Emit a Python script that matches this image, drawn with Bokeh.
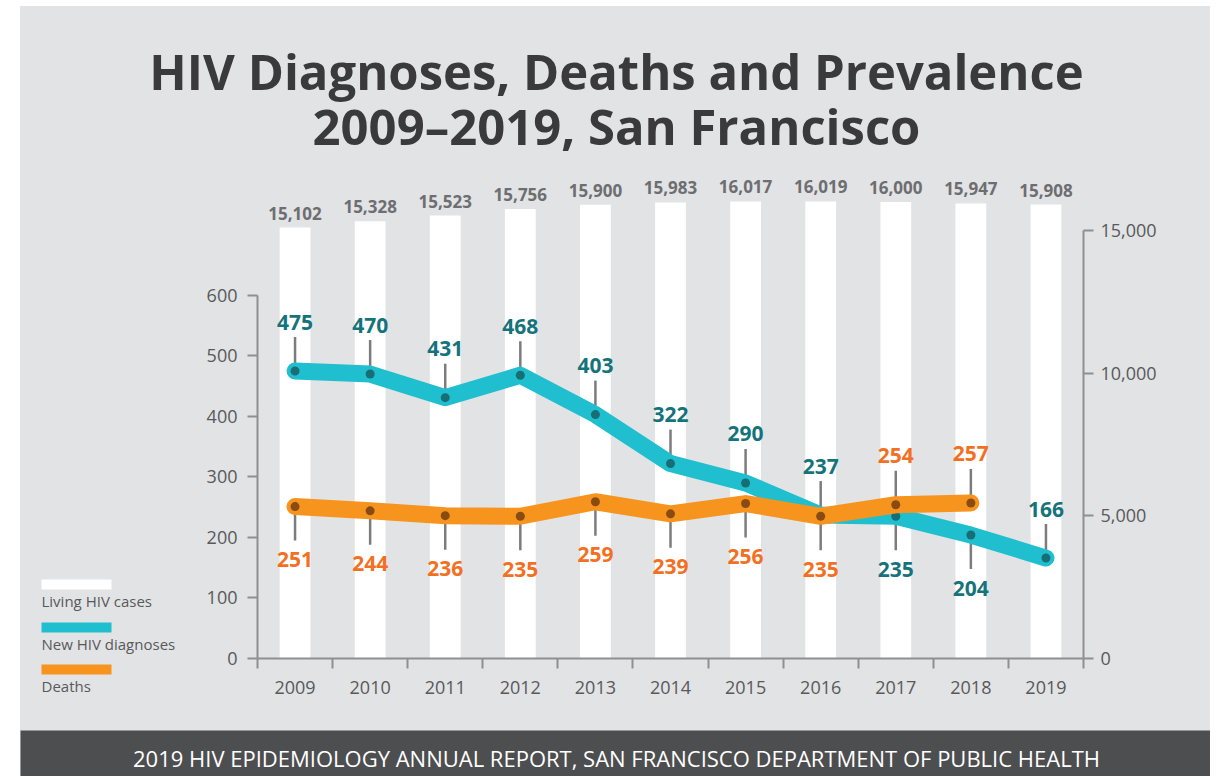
from bokeh.plotting import figure
from bokeh.models import Range1d, LinearAxis, FixedTicker, NumeralTickFormatter, Spacer
from bokeh.layouts import column, row
from bokeh.embed import file_html
from bokeh.resources import INLINE
from bokeh.core.properties import value

# ---------------- data ----------------
years = [2009, 2010, 2011, 2012, 2013, 2014, 2015, 2016, 2017, 2018, 2019]
living_cases = [15102, 15328, 15523, 15756, 15900, 15983, 16017, 16019, 16000, 15947, 15908]
new_diagnoses = [475, 470, 431, 468, 403, 322, 290, 237, 235, 204, 166]
deaths = [251, 244, 236, 235, 259, 239, 256, 235, 254, 257]
death_years = years[:len(deaths)]
left_ticks = [0, 100, 200, 300, 400, 500, 600]
right_ticks = [0, 5000, 10000, 15000]
series_names = ["Living HIV cases", "New HIV diagnoses", "Deaths"]
title_lines = ["HIV Diagnoses, Deaths and Prevalence", "2009\u20132019, San Francisco"]
footer_text = "2019 HIV EPIDEMIOLOGY ANNUAL REPORT, SAN FRANCISCO DEPARTMENT OF PUBLIC HEALTH"

# ---------------- style ----------------
BG = "#e2e3e5"
TEAL = "#20bfcf"
ORANGE = "#f7941e"
TEAL_DOT = "#176e75"
ORANGE_DOT = "#8a4b12"
TEAL_TEXT = "#15737c"
ORANGE_TEXT = "#f36f21"
GRAY_TEXT = "#58595b"
BAR_LABEL = "#6d6e71"
AXIS = "#8e8f91"
LEADER = "#7c7c7e"
FOOTER_BG = "#4d4e50"
TITLE_C = "#3a3a3c"
FONT = "Open Sans"

def bare(fig, bg=BG):
    fig.background_fill_color = bg
    fig.border_fill_color = bg
    fig.outline_line_color = None
    fig.xgrid.visible = False
    fig.ygrid.visible = False
    fig.frame_align = False
    return fig

# ---------------- title figure ----------------
TH = 169
tf = figure(width=1190, height=TH, x_range=Range1d(0, 1190), y_range=Range1d(TH, 0),
            toolbar_location=None, output_backend="svg", min_border=0,
            x_axis_type=None, y_axis_type=None)
bare(tf)
tf.text(x=[596, 596], y=[64, 119], text=title_lines, text_align="center", text_baseline="middle",
        text_font=value(FONT), text_font_style="bold", text_font_size="49px", text_color=TITLE_C)

# ---------------- legend figure ----------------
LH = 555
lf = figure(width=175, height=LH, x_range=Range1d(0, 175), y_range=Range1d(LH, 0),
            toolbar_location=None, output_backend="svg", min_border=0,
            x_axis_type=None, y_axis_type=None)
bare(lf)
sw_y = [409, 452, 494]
lf.rect(x=[56, 56, 56], y=sw_y, width=70, height=10,
        fill_color=["#ffffff", TEAL, ORANGE], line_color=None)
lf.text(x=[21, 21, 21], y=[y + 16 for y in sw_y], text=series_names, text_align="left",
        text_baseline="middle", text_font=value(FONT), text_font_size="15px", text_color=GRAY_TEXT)

# ---------------- main figure ----------------
PX_PER_UNIT = 483 / 798.0  # frame px per left-axis unit (for leader lengths)
p = figure(width=1015, height=555, x_range=Range1d(2008.5, 2019.5), y_range=Range1d(0, 798),
           toolbar_location=None, output_backend="svg",
           min_border_left=62, min_border_right=127, min_border_top=0, min_border_bottom=72)
bare(p)
p.extra_y_ranges = {"right": Range1d(0, 16927)}

# axes
xa = p.xaxis[0]
xa.ticker = FixedTicker(ticks=years, minor_ticks=[y - 0.5 for y in years] + [years[-1] + 0.5])
xa.major_tick_out = 0
xa.major_tick_in = 0
xa.minor_tick_out = 10
xa.minor_tick_in = 0
xa.minor_tick_line_color = AXIS
xa.minor_tick_line_width = 2
xa.axis_line_color = AXIS
xa.axis_line_width = 2
xa.major_label_standoff = 12
xa.major_label_text_font = FONT
xa.major_label_text_font_size = "18px"
xa.major_label_text_color = GRAY_TEXT

ya = p.yaxis[0]
ya.ticker = FixedTicker(ticks=left_ticks)
ya.bounds = (0, 600)
ya.major_tick_out = 10
ya.major_tick_in = 0
ya.minor_tick_out = 0
ya.minor_tick_in = 0
ya.major_tick_line_color = AXIS
ya.major_tick_line_width = 2
ya.axis_line_color = AXIS
ya.axis_line_width = 2
ya.major_label_standoff = 10
ya.major_label_text_font = FONT
ya.major_label_text_font_size = "18px"
ya.major_label_text_color = GRAY_TEXT

ra = LinearAxis(y_range_name="right", ticker=FixedTicker(ticks=right_ticks), bounds=(0, 15000),
                formatter=NumeralTickFormatter(format="0,0"))
ra.major_tick_out = 10
ra.major_tick_in = 0
ra.minor_tick_out = 0
ra.minor_tick_in = 0
ra.major_tick_line_color = AXIS
ra.major_tick_line_width = 2
ra.axis_line_color = AXIS
ra.axis_line_width = 2
ra.major_label_standoff = 7
ra.major_label_text_font = FONT
ra.major_label_text_font_size = "18px"
ra.major_label_text_color = GRAY_TEXT
p.add_layout(ra, "right")

# bars (living cases)
p.vbar(x=years, top=living_cases, bottom=0, width=0.41, y_range_name="right",
       fill_color="#ffffff", line_color=None)
p.text(x=years, y=living_cases, text=[f"{v:,}" for v in living_cases], y_range_name="right",
       y_offset=-8, text_align="center", text_baseline="bottom", text_font=value(FONT),
       text_font_style="bold", text_font_size="17px", text_color=BAR_LABEL)

# label side: higher series labelled above, lower below
death_map = dict(zip(death_years, deaths))
diag_up = [death_map.get(y, -1) <= d for y, d in zip(years, new_diagnoses)]
diag_map = dict(zip(years, new_diagnoses))
death_up = [d > diag_map[y] for y, d in zip(death_years, deaths)]

LEAD = 34 / PX_PER_UNIT

def leaders(xs, vals, ups):
    y1 = [v + LEAD if u else v - LEAD for v, u in zip(vals, ups)]
    p.segment(x0=xs, y0=vals, x1=xs, y1=y1, line_color=LEADER, line_width=2.5)

def labels(xs, vals, ups, color):
    up_x = [x for x, u in zip(xs, ups) if u]
    up_v = [v for v, u in zip(vals, ups) if u]
    dn_x = [x for x, u in zip(xs, ups) if not u]
    dn_v = [v for v, u in zip(vals, ups) if not u]
    common = dict(text_align="center", text_baseline="middle", text_font=value(FONT),
                  text_font_style="bold", text_font_size="21px", text_color=color)
    if up_x:
        p.text(x=up_x, y=up_v, text=[str(v) for v in up_v], y_offset=-49, **common)
    if dn_x:
        p.text(x=dn_x, y=dn_v, text=[str(v) for v in dn_v], y_offset=53, **common)

leaders(years, new_diagnoses, diag_up)
p.line(years, new_diagnoses, line_color=TEAL, line_width=17, line_cap="round", line_join="round")
p.scatter(years, new_diagnoses, size=9, fill_color=TEAL_DOT, line_color=None)
leaders(death_years, deaths, death_up)
p.line(death_years, deaths, line_color=ORANGE, line_width=17, line_cap="round", line_join="round")
p.scatter(death_years, deaths, size=9, fill_color=ORANGE_DOT, line_color=None)
labels(years, new_diagnoses, diag_up, TEAL_TEXT)
labels(death_years, deaths, death_up, ORANGE_TEXT)

# ---------------- footer ----------------
FH = 46
ff = figure(width=1190, height=FH, x_range=Range1d(0, 1190), y_range=Range1d(FH, 0),
            toolbar_location=None, output_backend="svg", min_border=0,
            x_axis_type=None, y_axis_type=None)
bare(ff, FOOTER_BG)
ff.text(x=[596], y=[27], text=[footer_text], text_align="center", text_baseline="middle",
        text_font=value(FONT), text_font_size="22px", text_color="#ffffff")

panel = column(tf, row(lf, p, styles={"background-color": BG}), ff,
               styles={"background-color": BG})
layout = column(Spacer(height=6), row(Spacer(width=20), panel))
open("out.html", "w").write(file_html(layout, INLINE))
